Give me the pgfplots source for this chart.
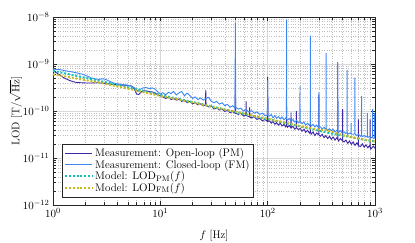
\documentclass[border=0pt]{standalone}
\usepackage{pgfplots}
\pgfplotsset{compat=1.18}
\definecolor{olc}{RGB}{62,38,168}
\definecolor{clc}{RGB}{60,135,245}
\definecolor{pmc}{RGB}{20,190,185}
\definecolor{fmc}{RGB}{200,185,30}
\definecolor{axc}{RGB}{38,38,38}
\newcommand{\ff}{\fontsize{11}{13}\selectfont}
\begin{document}
\begin{tikzpicture}
\useasboundingbox (0,0) rectangle (415pt,243pt);
\begin{axis}[
  at={(53pt,38pt)}, anchor=south west,
  scale only axis, width=322pt, height=188pt,
  xmode=log, ymode=log,
  xmin=1, xmax=1000, ymin=1e-12, ymax=1e-8,
  xtick={1,10,100,1000}, ytick={1e-12,1e-11,1e-10,1e-9,1e-8},
  grid=both,
  major grid style={line width=0.4pt, black!15},
  minor grid style={line width=0.4pt, black!25, dotted},
  axis line style={axc, line width=0.5pt},
  tick style={axc, line width=0.4pt},
  tick align=inside,
  tick label style={font=\ff},
  label style={font=\ff},
  xlabel={$f$ [Hz]}, ylabel={LOD [T/$\sqrt{\mathrm{Hz}}$]},
  xlabel style={at={(axis description cs:0.5,-0.165)}, anchor=center},
  ylabel style={at={(axis description cs:-0.116,0.5)}, anchor=center},
  legend style={at={(0.028,0.043)}, anchor=south west, draw=axc, fill=white,
    font=\ff, row sep=-2.2pt, inner sep=2pt},
  legend cell align=left,
  legend image code/.code={\draw[#1] (0cm,0cm) -- (0.95cm,0cm);},
]
% Open-loop (PM)
\addplot[olc, line width=0.9pt] coordinates {
(1,7.2e-10)(1.1,6.3e-10)(1.2,5.5e-10)(1.3,4.9e-10)(1.45,4.4e-10)(1.6,4.1e-10)(1.8,4.0e-10)(2.0,3.95e-10)(2.3,3.95e-10)(2.6,4.0e-10)(2.9,3.9e-10)(3.2,3.8e-10)(3.6,3.7e-10)(4.0,3.6e-10)(4.5,3.55e-10)(5.0,3.5e-10)(5.4,3.4e-10)(5.7,3.0e-10)(6.0,2.3e-10)(6.3,2.25e-10)(6.7,2.6e-10)(7.2,2.7e-10)(7.8,2.6e-10)(8.4,2.55e-10)(9.0,2.4e-10)(9.5,2.2e-10)
(10,2.1e-10)(10.6,2.0e-10)(11.2,1.85e-10)(11.9,1.95e-10)(12.6,1.75e-10)(13.3,1.85e-10)(14.1,1.7e-10)(15.0,1.8e-10)(15.8,1.6e-10)(16.8,1.72e-10)(17.8,1.5e-10)(18.8,1.6e-10)(20.0,1.42e-10)(21.1,1.5e-10)(22.4,1.35e-10)(23.7,1.42e-10)(25.1,1.28e-10)(26.3,1.35e-10)(26.5,2.8e-10)(26.7,1.3e-10)(28.2,1.22e-10)(29.9,1.28e-10)(31.6,1.1e-10)(33.5,1.16e-10)(35.5,1.05e-10)(37.6,1.1e-10)(39.8,0.98e-10)(42.2,1.03e-10)(44.7,0.92e-10)(47.3,0.98e-10)(49.6,0.9e-10)(50.0,4.3e-10)(50.4,0.9e-10)(53.1,0.85e-10)(56.2,0.9e-10)(59.6,0.78e-10)(62.7,0.82e-10)(63.0,1.6e-10)(63.3,0.8e-10)(66.8,0.76e-10)(67.8,0.75e-10)(68.0,1.2e-10)(68.2,0.74e-10)(70.8,0.72e-10)(75.0,0.76e-10)(79.4,0.66e-10)(84.1,0.7e-10)(89.1,0.62e-10)(94.4,0.66e-10)(99.4,0.6e-10)(100,5.3e-10)(100.6,0.6e-10)
(104,6.2e-11)(108,5.5e-11)(112,6.0e-11)(117,5.2e-11)(121,5.7e-11)(126,5.0e-11)(131,5.5e-11)(136,4.8e-11)(142,5.2e-11)(147,4.6e-11)(149.5,5.0e-11)(150,1.24e-10)(150.5,5.0e-11)(153,4.5e-11)(159,4.9e-11)(164.5,4.4e-11)(165,9.3e-11)(165.5,4.4e-11)(172,4.7e-11)(179,4.1e-11)(184.5,4.4e-11)(185,1.0e-10)(185.5,4.4e-11)(194,4.0e-11)(201,4.3e-11)(209,3.7e-11)(218,4.1e-11)(226,3.5e-11)(235,3.9e-11)(245,3.4e-11)(249.5,3.7e-11)(250,1.0e-10)(250.5,3.7e-11)(254,3.2e-11)(265,3.6e-11)(275,3.0e-11)(286,3.4e-11)(299.6,3.1e-11)(300,2.2e-10)(300.4,3.1e-11)(310,2.9e-11)(322,3.2e-11)(335,2.7e-11)(348,3.0e-11)(362,2.6e-11)(377,2.9e-11)(392,2.5e-11)(407,2.8e-11)(424,2.4e-11)(440,2.7e-11)(449.6,2.5e-11)(450,1.1e-9)(450.4,2.5e-11)(458,2.3e-11)(476,2.6e-11)(499.6,2.3e-11)(500,1.1e-10)(500.4,2.3e-11)(515,2.2e-11)(536,2.4e-11)(557,2.05e-11)(579,2.3e-11)(602,1.95e-11)(626,2.2e-11)(651,1.85e-11)(677,2.1e-11)(699.6,1.85e-11)(700,6.6e-11)(700.4,1.85e-11)(733,1.75e-11)(762,2.0e-11)(792,1.7e-11)(824,1.9e-11)(857,1.65e-11)(891,1.85e-11)(899.6,1.7e-11)(900,6.6e-11)(900.4,1.7e-11)(927,1.6e-11)(964,1.8e-11)(1000,1.6e-11)
};
\addlegendentry{Measurement: Open-loop (PM)}
% Closed-loop (FM)
\addplot[clc, line width=0.9pt] coordinates {
(1,7.8e-10)(1.15,7.6e-10)(1.3,7.2e-10)(1.5,6.8e-10)(1.7,6.4e-10)(1.9,6.0e-10)(2.1,5.5e-10)(2.3,5.0e-10)(2.5,4.8e-10)(2.7,4.7e-10)(2.9,4.85e-10)(3.1,4.7e-10)(3.3,4.4e-10)(3.6,4.0e-10)(3.9,3.8e-10)(4.3,3.7e-10)(4.7,3.6e-10)(5.1,3.5e-10)(5.5,3.3e-10)(5.9,3.0e-10)(6.2,2.6e-10)(6.5,2.9e-10)(6.9,3.1e-10)(7.4,3.15e-10)(7.9,3.0e-10)(8.4,3.1e-10)(8.9,2.95e-10)(9.4,2.6e-10)
(10,2.3e-10)(10.6,2.45e-10)(11.2,2.2e-10)(11.9,2.5e-10)(12.6,2.35e-10)(13.3,2.6e-10)(14.1,2.2e-10)(15.0,2.45e-10)(15.8,2.6e-10)(16.8,2.1e-10)(17.8,2.4e-10)(18.8,2.15e-10)(20.0,1.85e-10)(21.1,2.0e-10)(22.4,1.75e-10)(23.7,1.9e-10)(25.1,1.7e-10)(26.6,1.85e-10)(28.2,1.95e-10)(29.9,1.6e-10)(31.6,1.5e-10)(33.5,1.6e-10)(35.5,1.4e-10)(37.6,1.5e-10)(39.8,1.3e-10)(42.2,1.38e-10)(44.7,1.2e-10)(47.3,1.3e-10)(49.6,1.15e-10)(50.0,7.5e-9)(50.4,1.2e-10)(53.1,1.1e-10)(56.2,1.15e-10)(59.6,1.0e-10)(63.1,1.08e-10)(66.8,0.95e-10)(70.8,1.02e-10)(75.0,0.9e-10)(79.4,0.96e-10)(84.1,0.85e-10)(89.1,0.9e-10)(94.4,0.8e-10)(99.4,0.82e-10)(100,4.5e-10)(100.6,0.8e-10)
(104,7.8e-11)(108,8.4e-11)(112,7.2e-11)(117,7.9e-11)(121,7.0e-11)(126,7.6e-11)(131,6.8e-11)(136,7.5e-11)(142,6.5e-11)(147,7.1e-11)(149.5,6.8e-11)(150,8.8e-9)(150.5,6.8e-11)(153,6.4e-11)(159,6.9e-11)(166,6.0e-11)(172,6.6e-11)(179,5.8e-11)(186,6.3e-11)(194,5.6e-11)(199.5,5.9e-11)(200,3.4e-10)(200.5,5.9e-11)(209,5.4e-11)(218,5.8e-11)(226,5.0e-11)(235,5.5e-11)(245,4.9e-11)(249.5,5.3e-11)(250,4.0e-9)(250.5,5.3e-11)(254,4.8e-11)(265,5.2e-11)(275,4.6e-11)(286,5.0e-11)(298,4.4e-11)(299.6,4.6e-11)(300,2.5e-10)(300.4,4.6e-11)(310,4.6e-11)(322,4.1e-11)(335,4.5e-11)(348,4.0e-11)(349.6,4.3e-11)(350,1.7e-9)(350.4,4.3e-11)(362,3.9e-11)(377,4.2e-11)(392,3.8e-11)(407,4.1e-11)(424,3.6e-11)(440,3.9e-11)(449.6,3.7e-11)(450,9.8e-10)(450.4,3.7e-11)(458,3.5e-11)(476,3.8e-11)(495,3.4e-11)(515,3.6e-11)(536,3.3e-11)(549.6,3.5e-11)(550,7.4e-10)(550.4,3.5e-11)(557,3.2e-11)(579,3.4e-11)(599.6,3.3e-11)(600,5.5e-11)(600.4,3.2e-11)(626,3.2e-11)(649.6,3.3e-11)(650,5.1e-10)(650.4,3.3e-11)(677,3.0e-11)(704,3.2e-11)(733,2.9e-11)(749.6,3.0e-11)(750,2.1e-10)(750.4,3.0e-11)(762,2.85e-11)(792,3.0e-11)(824,2.8e-11)(849.6,2.9e-11)(850,9.1e-11)(850.4,2.9e-11)(857,2.75e-11)(891,2.9e-11)(927,2.7e-11)(949.6,2.8e-11)(950,1.1e-10)(950.4,2.8e-11)(964,2.6e-11)(990,2.7e-11)(992,9.0e-11)(994,2.7e-11)(1000,2.6e-11)
};
\addlegendentry{Measurement: Closed-loop (FM)}
% Model PM
\addplot[pmc, line width=2pt, dash pattern=on 2pt off 1.8pt] coordinates {
(1,7.2e-10)(1.26,6.4e-10)(1.58,5.7e-10)(2,5.1e-10)(2.51,4.55e-10)(3.16,4.05e-10)(3.98,3.6e-10)(5.01,3.2e-10)(6.31,2.85e-10)(7.94,2.5e-10)(10,2.2e-10)(12.6,1.95e-10)(15.8,1.75e-10)(20,1.55e-10)(25.1,1.38e-10)(31.6,1.22e-10)(39.8,1.08e-10)(50.1,9.6e-11)(63.1,8.5e-11)(79.4,7.5e-11)(100,6.7e-11)(126,6.0e-11)(158,5.3e-11)(200,4.7e-11)(251,4.2e-11)(316,3.7e-11)(398,3.3e-11)(501,3.0e-11)(631,2.7e-11)(794,2.45e-11)(1000,2.25e-11)
};
\addlegendentry{Model: $\mathrm{LOD}_{\mathrm{PM}}(f)$}
% Model FM
\addplot[fmc, line width=2pt, dash pattern=on 2pt off 1.8pt] coordinates {
(1,6.0e-10)(1.26,5.5e-10)(1.58,5.0e-10)(2,4.55e-10)(2.51,4.15e-10)(3.16,3.75e-10)(3.98,3.35e-10)(5.01,3.0e-10)(6.31,2.65e-10)(7.94,2.35e-10)(10,2.1e-10)(12.6,1.88e-10)(15.8,1.7e-10)(20,1.52e-10)(25.1,1.36e-10)(31.6,1.2e-10)(39.8,1.07e-10)(50.1,9.6e-11)(63.1,8.6e-11)(79.4,7.6e-11)(100,6.8e-11)(126,6.1e-11)(158,5.4e-11)(200,4.8e-11)(251,4.3e-11)(316,3.95e-11)(350,3.9e-11)(398,3.6e-11)(450,3.3e-11)(501,3.05e-11)(562,2.9e-11)(631,2.75e-11)(708,2.6e-11)(794,2.45e-11)(891,2.35e-11)(1000,2.25e-11)
};
\addlegendentry{Model: $\mathrm{LOD}_{\mathrm{FM}}(f)$}
\end{axis}
\end{tikzpicture}
\end{document}
